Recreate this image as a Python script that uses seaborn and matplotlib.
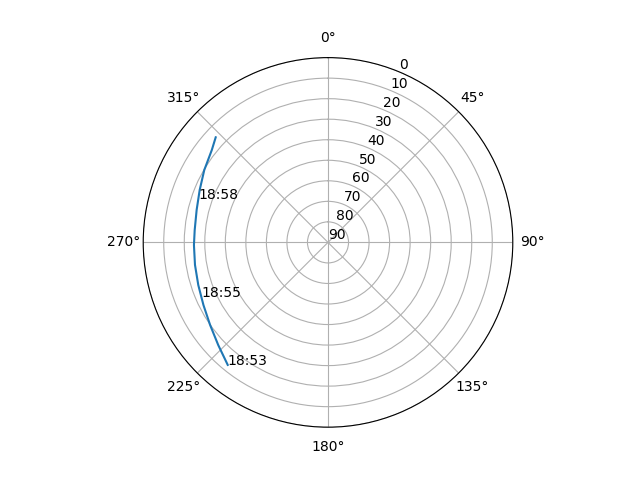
import numpy as np
import matplotlib
matplotlib.use("Agg")
import matplotlib.pyplot as plt
import seaborn as sns

# track: azimuth (deg, clockwise from north) and elevation (deg)
azimuth = [219.3, 226.9, 235.0, 243.3, 251.8, 260.4, 268.9, 275.3, 283.9, 292.2, 300.3, 308.5, 313.1]
elevation = [12.9, 16.8, 19.9, 22.1, 23.5, 24.3, 24.7, 24.8, 24.1, 22.5, 20.2, 17.7, 15.1]

# time labels along the track
label_times = ['18:53', '18:55', '18:58']
label_az = [219.3, 246.8, 288.4]
label_el = [12.9, 22.9, 23.4]

fig = plt.figure(figsize=(6.4, 4.8), dpi=100)
ax = fig.add_subplot(projection='polar')
ax.set_theta_zero_location('N')
ax.set_theta_direction(-1)

sns.lineplot(x=np.radians(azimuth), y=elevation, ax=ax, sort=False,
             estimator=None, color='C0')

for t, a, e in zip(label_times, label_az, label_el):
    ax.text(np.radians(a), e, t)

ax.set_rlim(90, 0)
ax.set_rticks(range(0, 91, 10))
ax.set_xlabel('')
ax.set_ylabel('')

fig.savefig('out.png')
